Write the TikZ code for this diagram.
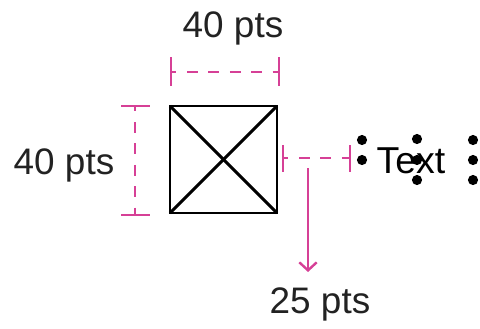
\documentclass[tikz,border=0pt]{standalone}
\usepackage{fontspec}
\setmainfont{Liberation Sans}
\usetikzlibrary{arrows}
\usetikzlibrary{arrows.meta}
\definecolor{dimpink}{RGB}{214,64,150}
\definecolor{labelgray}{RGB}{34,34,34}
\tikzset{
    dimline/.style={dimpink,line width=0.9pt},
    dimdash/.style={dimline,dash pattern=on 4pt off 4pt,dash phase=2pt},
    dimlabel/.style={font=\fontsize{13.8}{16}\selectfont,text=labelgray,anchor=base,inner sep=0pt},
    anchordot/.style={circle,fill=black,inner sep=0pt,minimum size=3.8pt}
}

\begin{document}
\begin{tikzpicture}[x=0.3738pt,y=-0.3738pt]
        \useasboundingbox (0,0) rectangle (480,328);
        \coordinate (A) at (170,106);
        \coordinate (B) at (277,106);
        \coordinate (C) at (277,213);
        \coordinate (D) at (170,213);

        % the box
        \draw[line width=1.1pt] (A) -- (B) -- (C) -- (D) -- cycle;
        \draw[line width=1.1pt] (A) -- (C);
        \draw[line width=1.1pt] (B) -- (D);

        % width
        \coordinate (T1) at (171,72);
        \coordinate (T2) at (279,72);
        \draw[dimline] (171,57) -- (171,86);
        \draw[dimline] (279,57) -- (279,86);
        \draw[dimdash] (T1) -- (T2);
        \node[dimlabel] (wlabel) at (233,37) {40 pts};

        % height
        \coordinate (L1) at (135,106);
        \coordinate (L2) at (135,215);
        \draw[dimline] (121,106) -- (150,106);
        \draw[dimline] (121,215) -- (150,215);
        \draw[dimdash] (L1) -- (L2);
        \node[dimlabel] (hlabel) at (64,174) {40 pts};

        % spacing
        \coordinate (S1) at (283,158);
        \coordinate (S2) at (350,158);
        \coordinate (S3) at (308,168);
        \draw[dimline] (283,145) -- (283,172);
        \draw[dimline] (350,145) -- (350,172);
        \draw[dimdash] (S1) -- (S2);
        \node[dimlabel] (slabel) at (320,313) {25 pts};
        \draw[dimline,-{Straight Barb[length=3pt,width=6.5pt]}] (S3) -- ([yshift=5.5pt]S3 |- slabel.north);

        % text node with its anchors
        \node[font=\fontsize{14}{16}\selectfont,anchor=base,inner sep=0pt] (txt) at (411,173) {Text};
        \foreach \p in {(362,140),(362,160),(417,139),(417,160),(417,180),(473,140),(473,160),(473,180)}
            \node[anchordot] at \p {};
\end{tikzpicture}
\end{document}
